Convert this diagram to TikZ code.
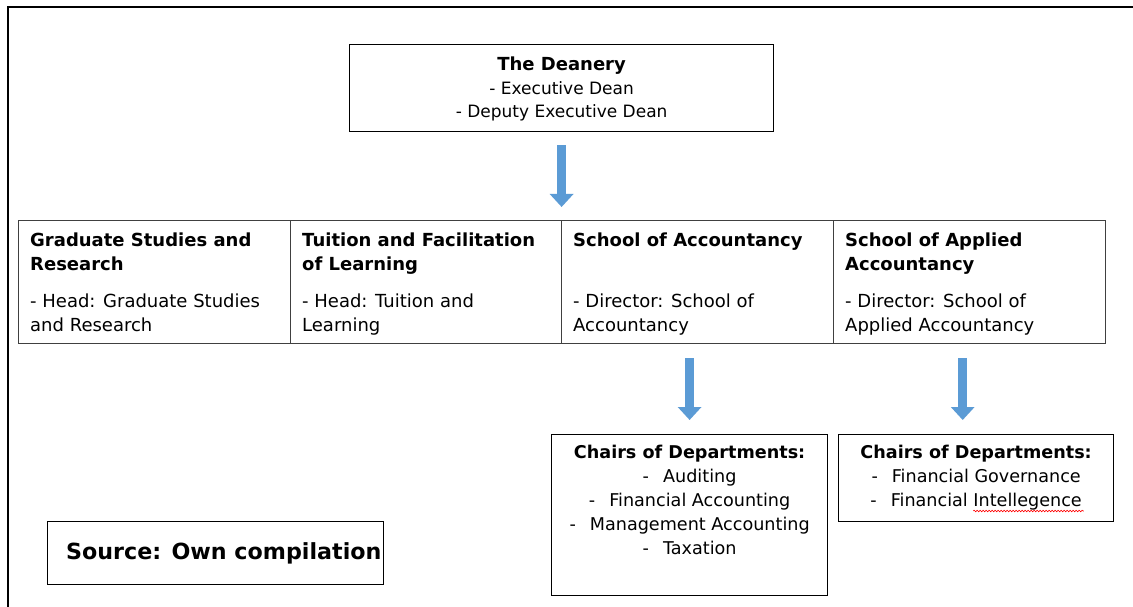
\documentclass[tikz,border=0pt]{standalone}
\usepackage{fontspec}
\setmainfont{DejaVu Sans}
\usetikzlibrary{arrows.meta,calc,decorations.pathmorphing}
\definecolor{arrowblue}{HTML}{5B9BD5}
\definecolor{cellline}{HTML}{404040}
\begin{document}
\begin{tikzpicture}[x=1pt,y=-1pt,
  box/.style={draw=black, line width=1.2pt, inner sep=0pt, anchor=north west},
  cellbox/.style={draw=cellline, line width=1.4pt, inner sep=0pt, anchor=north west, minimum height=123pt},
  celltext/.style={inner sep=0pt, anchor=north west, align=left, font=\fontsize{18}{24}\selectfont},
  chairtext/.style={inner sep=0pt, align=center, font=\fontsize{17.6}{24}\selectfont},
  bluearrow/.style={-{Triangle[width=23pt,length=13pt]}, line width=9pt, draw=arrowblue},
  spell/.style={draw=red, line width=0.6pt, decorate, decoration={snake, amplitude=0.8pt, segment length=3pt}}
]
\useasboundingbox (0,0) rectangle (1133,607);
\fill[white] (0,0) rectangle (1133,607);
\draw[line width=1.5pt] (8,607) -- (8,7) -- (1133,7);

% Deanery
\node[box, minimum width=424pt, minimum height=87pt] (dean) at (349,44) {};
\node[inner sep=0pt, align=center, font=\fontsize{17}{23.5}\selectfont] (deantext) at ($(dean.center)+(0pt,-1pt)$)
  {{\fontsize{18}{23.5}\selectfont\textbf{The Deanery}}\\- Executive Dean\\- Deputy Executive Dean};

% Table cells
\node[cellbox, minimum width=272pt] (c1) at (18,220) {};
\node[cellbox, minimum width=271pt] (c2) at (290,220) {};
\node[cellbox, minimum width=272pt] (c3) at (561,220) {};
\node[cellbox, minimum width=272pt] (c4) at (833,220) {};

\node[celltext] (t1) at (30,233) {\textbf{Graduate Studies and}\\\textbf{Research}};
\node[celltext] (b1) at (30,294) {- Head: Graduate Studies\\and Research};
\node[celltext] (t2) at (302,233) {\textbf{Tuition and Facilitation}\\\textbf{of Learning}};
\node[celltext] (b2) at (302,294) {- Head: Tuition and\\Learning};
\node[celltext] (t3) at (573,233) {\textbf{School of Accountancy}};
\node[celltext] (b3) at (573,294) {- Director: School of\\Accountancy};
\node[celltext] (t4) at (845,233) {\textbf{School of Applied}\\\textbf{Accountancy}};
\node[celltext] (b4) at (845,294) {- Director: School of\\Applied Accountancy};

% Chairs boxes
\node[box, minimum width=276pt, minimum height=161pt] (ch1) at (551,434) {};
\node[chairtext, anchor=north] (ch1text) at ($(ch1.north)+(0pt,-11pt)$)
  {\textbf{Chairs of Departments:}\\-\hspace{14pt}Auditing\\-\hspace{14pt}Financial Accounting\\-\hspace{14pt}Management Accounting\\-\hspace{14pt}Taxation};
\node[box, minimum width=275pt, minimum height=87pt] (ch2) at (838,434) {};
\node[chairtext, anchor=north] (ch2text) at ($(ch2.north)+(0pt,-11pt)$)
  {\textbf{Chairs of Departments:}\\-\hspace{14pt}Financial Governance};
\node[chairtext, anchor=base] (fi) at ($(ch2.north)+(0pt,-72pt)$)
  {-\hspace{14pt}Financial \phantom{Intellegence}};
\node[chairtext, anchor=base east] (fiw) at (fi.base east) {Intellegence};
\draw[spell] ([yshift=-5pt]fiw.base west) -- ([yshift=-5pt,xshift=2pt]fiw.base east);

% Source
\node[box, minimum width=336pt, minimum height=63pt] (src) at (47,521) {};
\node[inner sep=0pt, anchor=west, font=\bfseries\fontsize{22.2}{26}\selectfont] (srctext) at ($(src.west)+(19pt,0pt)$) {Source: Own compilation};

% Arrows
\draw[bluearrow] ($(dean.south)+(0pt,-13pt)$) -- ($(dean.south |- c3.north)+(0pt,13pt)$);
\draw[bluearrow] ($(c3.south -| ch1.north)+(0pt,-14pt)$) -- ($(ch1.north)+(0pt,14pt)$);
\draw[bluearrow] ($(c4.south)+(-7pt,-14pt)$) -- ($(c4.south |- ch2.north)+(-7pt,14pt)$);
\end{tikzpicture}
\end{document}
